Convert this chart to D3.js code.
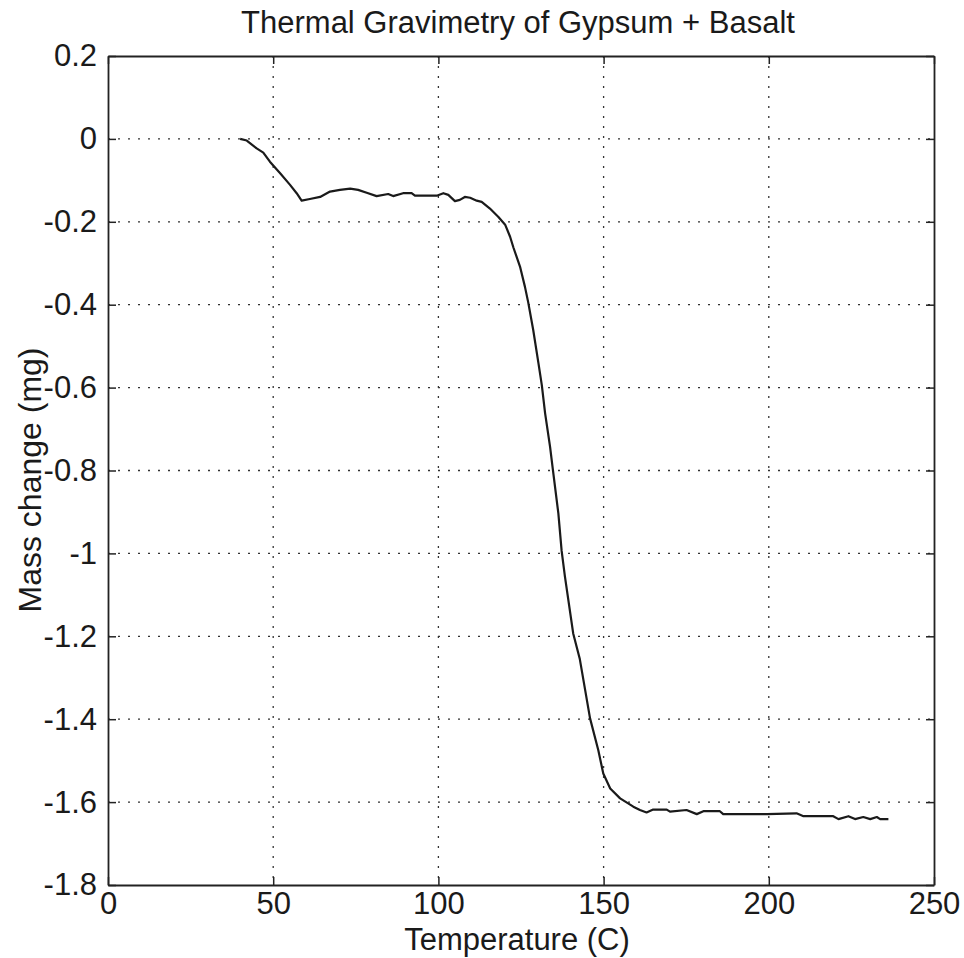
<!DOCTYPE html>
<html>
<head>
<meta charset="utf-8">
<style>
  body { margin: 0; background: #fff; }
  .canvas { width: 964px; height: 958px; }
  text { font-family: "Liberation Sans", Arial, Helvetica, sans-serif; fill: #1a1a1a; }
  .axis path, .axis line { stroke: #222; }
  .grid line { stroke: #333; stroke-dasharray: 2,8; stroke-width: 1.3; }
</style>
</head>
<body>
<div class="canvas" id="canvas"></div>
<script src="https://cdn.jsdelivr.net/npm/d3@7/dist/d3.min.js"></script>
<script>
// values
var temperature = [40, 42, 45, 47, 49, 52.1, 55.1, 57.1, 58.6, 61.1, 64.2, 67.2, 70.2, 73.3, 75.7, 78.3, 81.3,
  84.8, 86.3, 89.3, 91.9, 92.9, 99.5, 101.5, 103, 105, 106.5, 108, 109.6, 111.6, 113.1, 115.6, 118.1,
  120.2, 121.7, 122.7, 124.7, 126.2, 127.2, 128.7, 130.3, 131.3, 132.3, 133.8, 134.6, 136.3, 137.3,
  138.3, 140.8, 142.8, 145.9, 148.4, 149.9, 152, 155, 159, 161, 163, 165, 169.1, 170.1, 175.1,
  178.2, 180.2, 185.2, 186.2, 199.4, 208.4, 210.5, 219.5, 221.1, 224.1, 226.1, 228.6, 230.7,
  232.7, 233.7, 236.2];
var massChange = [0, -0.004, -0.023, -0.033, -0.055, -0.083, -0.111, -0.131, -0.149, -0.145, -0.140, -0.127, -0.123, -0.120, -0.123, -0.130, -0.138,
  -0.133, -0.138, -0.131, -0.131, -0.137, -0.137, -0.131, -0.135, -0.150, -0.147, -0.140, -0.142, -0.149, -0.152, -0.168, -0.188,
  -0.207, -0.236, -0.262, -0.308, -0.357, -0.395, -0.461, -0.542, -0.594, -0.662, -0.743, -0.795, -0.903, -0.994,
  -1.056, -1.193, -1.255, -1.398, -1.475, -1.531, -1.567, -1.591, -1.611, -1.619, -1.625, -1.618, -1.618, -1.623, -1.619,
  -1.629, -1.622, -1.622, -1.629, -1.629, -1.627, -1.634, -1.634, -1.641, -1.634, -1.641, -1.636, -1.641,
  -1.636, -1.641, -1.641];

var xTicks = [0, 50, 100, 150, 200, 250];
var yTicks = [0.2, 0, -0.2, -0.4, -0.6, -0.8, -1, -1.2, -1.4, -1.6, -1.8];

var m = {t:56, r:30, b:73, l:108};
var outerWidth = 964, outerHeight = 958;
var w = outerWidth - m.l - m.r,
    h = outerHeight - m.t - m.b;

var svg = d3.select('.canvas')
    .append('svg')
    .attr('width', outerWidth)
    .attr('height', outerHeight);

var plot = svg.append('g')
    .attr('transform', 'translate(' + m.l + ',' + m.t + ')');

var scaleX = d3.scaleLinear().domain([0, 250]).range([0, w]);
var scaleY = d3.scaleLinear().domain([-1.8, 0.2]).range([h, 0]);

function fmt(d){ return String(Math.round(d * 10) / 10); }

// dotted grid
var grid = plot.append('g').attr('class', 'grid');
grid.selectAll('.gx')
    .data(xTicks.slice(1, -1))
    .enter()
    .append('line')
    .attr('x1', function(d){ return scaleX(d) })
    .attr('x2', function(d){ return scaleX(d) })
    .attr('y1', 0)
    .attr('y2', h);
grid.selectAll('.gy')
    .data(yTicks.slice(1, -1))
    .enter()
    .append('line')
    .attr('x1', 0)
    .attr('x2', w)
    .attr('y1', function(d){ return scaleY(d) })
    .attr('y2', function(d){ return scaleY(d) });

// axes with inward ticks, box on all four sides
var axisBottom = d3.axisBottom(scaleX).tickValues(xTicks).tickFormat(fmt)
    .tickSizeInner(-8).tickSizeOuter(0).tickPadding(7);
var axisLeft = d3.axisLeft(scaleY).tickValues(yTicks).tickFormat(fmt)
    .tickSizeInner(-8).tickSizeOuter(0).tickPadding(11);
var axisTop = d3.axisTop(scaleX).tickValues(xTicks).tickFormat('')
    .tickSizeInner(-8).tickSizeOuter(0);
var axisRight = d3.axisRight(scaleY).tickValues(yTicks).tickFormat('')
    .tickSizeInner(-8).tickSizeOuter(0);

plot.append('g').attr('class', 'axis')
    .attr('transform', 'translate(0,' + h + ')')
    .call(axisBottom);
plot.append('g').attr('class', 'axis').call(axisLeft);
plot.append('g').attr('class', 'axis').call(axisTop);
plot.append('g').attr('class', 'axis')
    .attr('transform', 'translate(' + w + ',0)')
    .call(axisRight);

plot.selectAll('.axis path').attr('stroke-width', 1.8);
plot.selectAll('.axis line').attr('stroke-width', 1.5);
plot.selectAll('.axis text')
    .style('font-size', '31px')
    .attr('fill', '#1a1a1a');

// curve
var pts = temperature.map(function(t, i){ return [t, massChange[i]]; });
var line = d3.line()
    .x(function(d){ return scaleX(d[0]) })
    .y(function(d){ return scaleY(d[1]) });

plot.append('path')
    .datum(pts)
    .attr('d', line)
    .attr('fill', 'none')
    .attr('stroke', '#1a1a1a')
    .attr('stroke-width', 2.2)
    .attr('stroke-linejoin', 'round');

// labels
svg.append('text')
    .attr('x', 518)
    .attr('y', 33)
    .attr('text-anchor', 'middle')
    .style('font-size', '31px')
    .text('Thermal Gravimetry of Gypsum + Basalt');

svg.append('text')
    .attr('x', 517)
    .attr('y', 950)
    .attr('text-anchor', 'middle')
    .style('font-size', '31px')
    .text('Temperature (C)');

svg.append('text')
    .attr('transform', 'translate(41,480) rotate(-90)')
    .attr('text-anchor', 'middle')
    .style('font-size', '32px')
    .text('Mass change (mg)');
</script>
</body>
</html>
